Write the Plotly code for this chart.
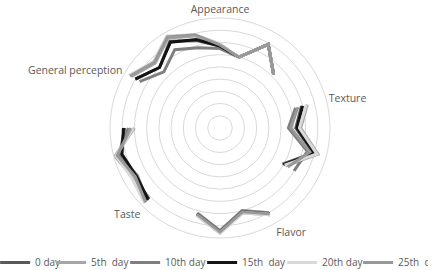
import plotly.graph_objects as go

# 24 radar categories: 5 attributes x 4 sub-scores, separated by empty (gap) categories
categories = ["Appearance", "", "", "", "",
              "Texture", "", "", "", "",
              "Flavor", "", "", "", "",
              "Taste", "", "", "", "",
              "General perception", "", "", ""]

series_names = ["0 day", "5th  day", "10th day", "15th  day", "20th day", "25th  day"]

N = None
day0 = [6.7, 6.0, 7.9, 6.2, N, 6.9, 6.2, 7.9, 5.9, N, 8.1, 7.1, 8.5, 7.3, N, 8.2, 8.1, 8.5, 7.8, N, 8.0, 7.0, 8.2, 7.4]
day5 = [6.8, 6.0, 7.9, 6.2, N, 7.4, 6.6, 8.3, 6.2, N, 8.2, 7.2, 8.6, 7.4, N, 8.6, 8.2, 8.9, 7.0, N, 8.4, 7.5, 8.5, 7.8]
day10 = [6.5, 6.0, 7.9, 6.2, N, 6.4, 5.6, 7.4, 7.0, N, 8.0, 7.0, 8.4, 7.2, N, 8.4, 7.8, 8.6, 7.5, N, 7.6, 6.5, 7.4, 6.8]
day15 = [6.7, 6.0, 7.9, 6.2, N, 7.0, 6.3, 8.0, 6.0, N, 8.1, 7.1, 8.5, 7.3, N, 8.3, 7.9, 8.3, 7.9, N, 8.0, 7.0, 8.1, 7.5]
day20 = [6.9, 6.0, 7.9, 6.2, N, 7.3, 6.5, 8.2, 6.1, N, 8.2, 7.2, 8.6, 7.4, N, 8.7, 8.3, 8.8, 7.1, N, 8.6, 7.7, 8.7, 7.9]
day25 = [6.8, 6.0, 7.9, 6.2, N, 6.6, 5.8, 7.6, 6.4, N, 8.1, 7.1, 8.5, 7.3, N, 8.6, 8.0, 8.7, 7.3, N, 8.5, 7.6, 8.6, 7.9]

all_values = [day0, day5, day10, day15, day20, day25]
colors = ["#595959", "#a6a6a6", "#7f7f7f", "#141414", "#d9d9d9", "#989898"]
legend_widths = [11, 29, 32, 35, 31, 25]

n = len(categories)
theta = [i * 360.0 / n for i in range(n)]
theta_closed = theta + [theta[0]]

fig = go.Figure()
for name, vals, col, lw in zip(series_names, all_values, colors, legend_widths):
    fig.add_trace(go.Scatterpolar(
        r=vals + [vals[0]], theta=theta_closed, mode="lines", name=name,
        line=dict(color=col, width=3), connectgaps=False, legendwidth=lw,
    ))

tick_vals = [t for t, c in zip(theta, categories) if c]
tick_text = [c for c in categories if c]

fig.update_layout(
    width=444, height=270,
    margin=dict(l=0, r=0, t=0, b=0, autoexpand=False),
    paper_bgcolor="white", plot_bgcolor="white",
    font=dict(family="Open Sans", size=10, color="#595959"),
    polar=dict(
        domain=dict(x=[110 / 444, 330 / 444], y=[32 / 270, 252 / 270]),
        bgcolor="white",
        angularaxis=dict(
            rotation=90, direction="clockwise", thetaunit="degrees",
            tickmode="array", tickvals=tick_vals, ticktext=tick_text,
            showgrid=False, ticks="", showline=True, linecolor="#d9d9d9", linewidth=1,
            tickfont=dict(size=10.5, color="#595959"),
        ),
        radialaxis=dict(
            range=[0, 9], dtick=1, showticklabels=False, ticks="", showline=False,
            gridcolor="#d9d9d9", gridwidth=1,
        ),
    ),
    legend=dict(
        orientation="h", x=-0.011, xanchor="left", y=-0.026, yanchor="bottom",
        font=dict(size=10, color="#595959"), bgcolor="rgba(0,0,0,0)",
        tracegroupgap=0,
    ),
    showlegend=True,
)

fig.write_html("out.html", config={"displayModeBar": False},
               post_script="document.body.style.margin='0px';")
